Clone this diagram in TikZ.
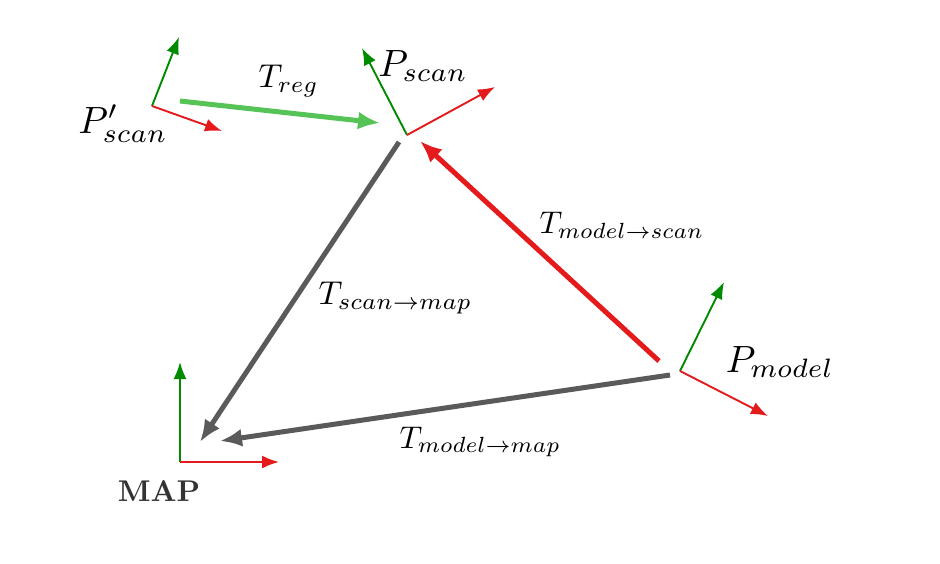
\documentclass[tikz,border=0pt]{standalone}
\usetikzlibrary{arrows.meta}
\definecolor{axgreen}{HTML}{008A00}
\definecolor{axred}{HTML}{E41A1C}
\definecolor{tgray}{HTML}{5A5A5A}
\definecolor{treg}{HTML}{55C355}
\definecolor{maptext}{HTML}{333333}
\begin{document}
\begin{tikzpicture}[x=1pt,y=-1pt,
  axisg/.style={draw=axgreen,line width=1.9pt,-{Latex[length=17pt,width=13pt]}},
  axisr/.style={draw=axred,line width=1.9pt,-{Latex[length=17pt,width=13pt]}},
  bigarrow/.style={line width=5pt,-{Latex[length=22pt,width=18pt]}},
  plabel/.style={inner sep=0pt,scale=3.8},
  tlabel/.style={inner sep=0pt,scale=3.3,anchor=west}]
\useasboundingbox (0,0) rectangle (940,563);
% frame origins and tips
\coordinate (ps0) at (152,106); \coordinate (psg) at (179,37); \coordinate (psr) at (222,131);
\coordinate (s0) at (407,135); \coordinate (sg) at (362,48); \coordinate (sr) at (495,87);
\coordinate (m0) at (680,371); \coordinate (mg) at (724,282); \coordinate (mr) at (768,416);
\coordinate (w0) at (180,462); \coordinate (wg) at (180,362); \coordinate (wr) at (279,462);
\draw[axisg] (ps0) -- (psg); \draw[axisr] (ps0) -- (psr);
\draw[axisg] (s0) -- (sg); \draw[axisr] (s0) -- (sr);
\draw[axisg] (m0) -- (mg); \draw[axisr] (m0) -- (mr);
\draw[axisg] (w0) -- (wg); \draw[axisr] (w0) -- (wr);
% transform arrow ends
\coordinate (rega) at (180,101); \coordinate (regb) at (380,123);
\coordinate (sma) at (399,142); \coordinate (smb) at (200,442);
\coordinate (mma) at (670,375); \coordinate (mmb) at (220,441);
\coordinate (msa) at (659,361); \coordinate (msb) at (420,141);
\draw[bigarrow,draw=treg] (rega) -- (regb);
\draw[bigarrow,draw=tgray] (sma) -- (smb);
\draw[bigarrow,draw=tgray] (mma) -- (mmb);
\draw[bigarrow,draw=axred] (msa) -- (msb);
% labels
\node[plabel] (lps) at (123,124) {$P'_{scan}$};
\node[plabel] (ls) at (423,66) {$P_{scan}$};
\node[plabel] (lm) at (780,362) {$P_{model}$};
\node[tlabel] (lreg) at (258,81) {$T_{reg}$};
\node[tlabel,scale=0.95] (lms) at (539,225) {$T_{model\rightarrow scan}$};
\node[tlabel] (lsm) at (318,298) {$T_{scan\rightarrow map}$};
\node[tlabel,scale=0.95] (lmm) at (399,442) {$T_{model\rightarrow map}$};
\node[inner sep=0pt,text=maptext,scale=3.0,font=\bfseries] (lmap) at (159,491) {MAP};
\end{tikzpicture}
\end{document}
